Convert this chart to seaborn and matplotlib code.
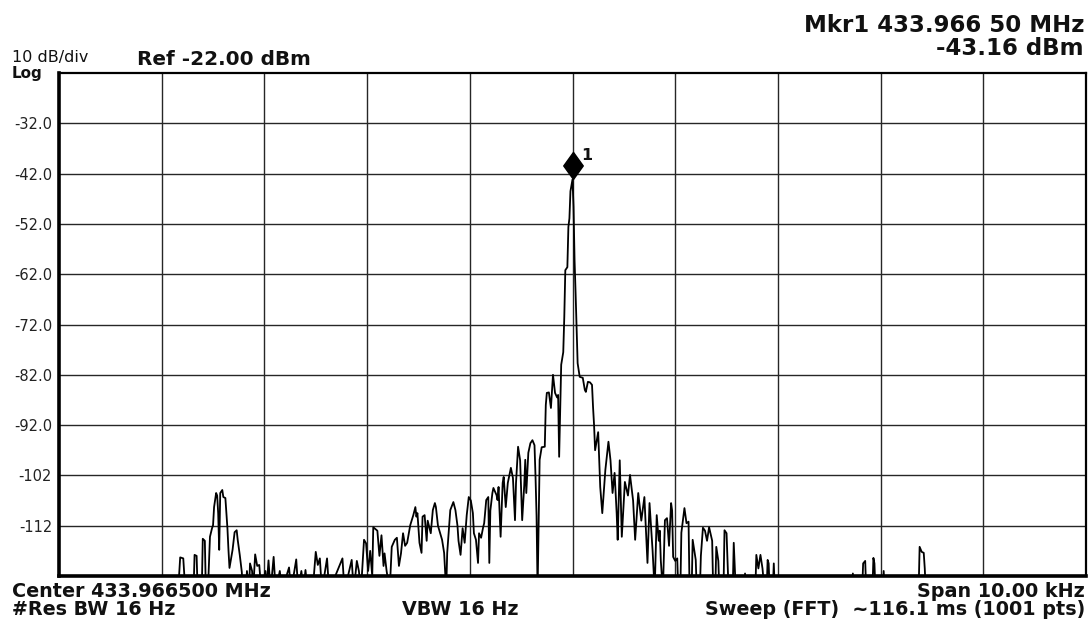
import numpy as np
import pandas as pd
import matplotlib
matplotlib.use("Agg")
import matplotlib.pyplot as plt
import seaborn as sns
from matplotlib.path import Path

sns.set_theme(style="white")
plt.rcParams["font.family"] = ["DejaVu Sans"]

# Sweep settings
START_MHZ = 433.9615          # left edge of the span
BIN_HZ = 10.0                 # 10 kHz span / 1000 intervals
N_POINTS = 1001
REF_LEVEL = -22.0
DB_PER_DIV = 10.0

# Trace vertices as (sweep point, level dBm); -125 means below the screen floor
noise_left = [
    (0, -125), (116, -125), (118, -118.3), (121, -118.5), (123, -125),
    (131, -125), (132, -117.8), (134, -118.0), (135, -125),
    (139, -125), (140, -114.6), (142, -115.0), (143, -125),
]
spur_left = [
    (145, -125), (147, -114.2), (149, -112.5), (150, -111.9), (151, -108.3),
    (153, -105.5), (154, -106.0), (155, -109.5), (156, -116.8), (157, -105.5),
    (159, -104.9), (160, -106.3), (162, -106.5), (164, -112.5), (165, -116.8),
    (166, -120.4), (169, -116.8), (171, -113.3), (173, -112.9), (174, -114.8),
    (176, -117.8), (178, -121.2), (179, -125),
]
noise_mid = [
    (182, -125), (183, -121.0), (185, -125), (186, -119.5), (188, -121.0),
    (189, -125), (191, -117.7), (193, -120.0), (195, -119.8), (197, -125),
    (201, -121.0), (202, -125), (204, -118.9), (206, -125), (209, -118.2),
    (211, -125), (215, -121.0), (217, -125), (224, -120.3), (226, -125),
    (231, -118.7), (233, -125), (236, -121.0), (238, -125), (240, -120.8),
    (242, -125), (247, -125), (250, -117.2), (252, -119.8), (254, -118.5),
    (256, -125), (261, -118.5), (263, -125), (276, -118.5), (278, -125),
    (285, -118.8), (287, -125), (290, -119.0), (292, -121.0), (294, -125),
]
skirt_left = [
    (297, -114.8), (299, -115.5), (301, -121.0), (303, -117.0), (305, -122.0),
    (306, -112.3), (310, -113.0), (312, -118.0), (314, -113.9), (316, -120.0),
    (317, -117.5), (319, -121.0), (322, -125), (324, -116.2), (327, -114.8),
    (329, -114.4), (331, -120.0), (333, -117.5), (335, -113.5), (337, -116.0),
    (339, -115.4), (342, -111.9), (345, -109.9), (347, -108.3), (348, -110.2),
    (349, -109.5), (351, -115.4), (353, -117.4), (354, -110.2), (356, -109.9),
    (358, -115.0), (359, -111.0), (362, -113.5), (364, -108.9), (366, -107.5),
    (367, -108.3), (369, -112.0), (373, -114.8), (375, -117.4), (377, -125),
    (378, -117.4), (381, -108.9), (384, -107.3), (386, -108.9), (388, -112.0),
    (389, -115.0), (391, -117.8), (393, -112.5), (395, -115.4), (397, -109.9),
    (399, -106.3), (401, -107.0), (403, -109.5), (404, -113.5), (406, -114.8),
    (408, -119.4), (409, -113.5), (411, -114.4), (413, -112.3), (414, -111.5),
    (416, -106.9), (418, -106.3), (419, -119.4), (420, -109.0), (422, -105.5),
    (423, -104.5), (426, -105.9), (427, -106.9), (428, -104.3), (430, -114.2),
    (432, -103.5), (433, -102.3), (435, -108.3), (437, -103.5), (440, -100.5),
    (442, -102.5), (443, -106.9), (444, -110.9), (445, -103.5), (447, -96.3),
    (449, -99.0), (451, -110.9), (453, -104.0), (454, -98.9), (455, -105.5),
    (457, -97.5), (459, -95.6), (461, -95.0), (463, -96.0), (464, -102.3),
    (465, -110.0), (466, -125), (468, -98.9), (470, -96.4), (473, -96.3),
    (474, -88.0), (475, -85.6), (477, -85.5), (479, -88.6), (480, -85.4),
    (481, -82.0), (483, -85.6), (485, -86.5), (486, -86.0), (487, -98.3),
]
carrier = [
    (489, -80.0), (491, -77.5), (492, -70.5), (493, -61.2), (495, -60.6),
    (496, -52.6), (497, -50.9), (498, -45.5), (500, -43.16), (501, -48.6),
    (502, -59.2), (503, -65.7), (504, -73.0), (505, -79.7), (507, -82.4),
]
skirt_right = [
    (510, -82.6), (512, -85.0), (513, -85.4), (515, -83.4), (517, -83.5),
    (519, -84.0), (520, -88.4), (521, -92.0), (522, -97.0), (525, -93.4),
    (527, -104.3), (529, -109.5), (532, -100.9), (535, -95.3), (537, -99.0),
    (539, -105.5), (541, -101.5), (543, -109.5), (544, -114.8), (546, -99.0),
    (548, -114.2), (551, -103.3), (554, -106.0), (556, -101.9), (559, -107.0),
    (561, -114.8), (564, -105.5), (567, -111.0), (570, -106.3), (573, -119.4),
    (575, -107.5), (578, -117.0), (580, -125), (582, -109.9), (584, -115.0),
    (585, -113.0), (586, -119.0), (588, -125), (590, -110.9), (592, -110.5),
    (594, -116.0), (596, -107.5), (597, -109.0), (598, -118.2), (600, -119.0),
    (602, -118.5), (603, -125),
]
noise_right = [
    (605, -125), (606, -113.4), (609, -108.5), (611, -111.5), (613, -111.2),
    (614, -125), (616, -125), (617, -114.8), (620, -118.8), (621, -125),
    (624, -125), (625, -118.0), (627, -112.4), (629, -113.0), (631, -115.0),
    (633, -112.3), (636, -115.0), (637, -125), (639, -125), (640, -116.2),
    (642, -119.0), (643, -125), (647, -125), (648, -112.9), (650, -113.5),
    (652, -125), (656, -125), (657, -115.4), (659, -125), (667, -125),
    (668, -121.5), (669, -125), (678, -125), (679, -117.8), (681, -120.5),
    (683, -117.8), (685, -120.5), (687, -125), (689, -125), (690, -118.8),
    (691, -119.5), (692, -125), (695, -125), (696, -119.5), (697, -125),
    (772, -125), (773, -121.5), (774, -125), (782, -125), (783, -119.5),
    (785, -119.0), (786, -125), (792, -125), (793, -118.4), (794, -119.5),
    (795, -125), (802, -125), (803, -121.0), (804, -125), (837, -125),
    (838, -116.2), (840, -117.2), (842, -117.4), (843, -120.5), (844, -125),
    (1000, -125),
]

grid_labels = ["-32.0", "-42.0", "-52.0", "-62.0", "-72.0",
               "-82.0", "-92.0", "-102", "-112"]

marker_mhz = 433.96650
marker_dbm = -43.16

segments = noise_left + spur_left + noise_mid + skirt_left + carrier + skirt_right + noise_right
trace = pd.DataFrame(segments, columns=["point", "level"])
trace["freq"] = START_MHZ + trace["point"] * BIN_HZ * 1e-6

W, H = 1090, 619
fig = plt.figure(figsize=(W / 100, H / 100), dpi=100)
fig.patch.set_facecolor("white")
x0, x1, y0, y1 = 59, 1086, 73, 576
ax = fig.add_axes([x0 / W, 1 - y1 / H, (x1 - x0) / W, (y1 - y0) / H])
ax.set_facecolor("white")

sns.lineplot(data=trace, x="freq", y="level", estimator=None, sort=False,
             color="black", linewidth=1.3, ax=ax, zorder=3)

f_lo = START_MHZ
f_hi = START_MHZ + (N_POINTS - 1) * BIN_HZ * 1e-6
ax.set_xlim(f_lo, f_hi)
ax.set_ylim(REF_LEVEL - 10 * DB_PER_DIV, REF_LEVEL)

xt = np.linspace(f_lo, f_hi, 11)[1:-1]
ax.set_xticks(xt)
ax.set_xticklabels([])
yt = REF_LEVEL - DB_PER_DIV * np.arange(1, 10)
ax.set_yticks(yt)
ax.set_yticklabels(grid_labels, fontsize=10.5, color="#222222")
ax.tick_params(length=0, pad=5)
ax.set_xlabel("")
ax.set_ylabel("")
ax.grid(True, color="#262626", linewidth=1.0)
ax.set_axisbelow(True)

for side, lw in [("left", 2.6), ("bottom", 2.6), ("top", 1.6), ("right", 1.6)]:
    ax.spines[side].set_visible(True)
    ax.spines[side].set_color("black")
    ax.spines[side].set_linewidth(lw)

# Marker 1: diamond sitting on the peak, tip at the marker level
diamond = Path([(0, 0), (-0.36, 0.5), (0, 1), (0.36, 0.5), (0, 0)],
               [Path.MOVETO, Path.LINETO, Path.LINETO, Path.LINETO, Path.CLOSEPOLY])
ax.plot([marker_mhz], [marker_dbm], marker=diamond, markersize=39,
        color="black", linestyle="none", zorder=5, clip_on=False)
ax.annotate("1", xy=(marker_mhz, marker_dbm), xytext=(9, 19),
            textcoords="offset pixels", ha="left", va="baseline",
            fontsize=11.5, fontweight="bold", color="#111111")


def px_text(x, y, s, **kw):
    fig.text(x / W, 1 - y / H, s, va="baseline", color="#111111", **kw)


px_text(12, 62, "10 dB/div", fontsize=11.5)
px_text(12, 78, "Log", fontsize=11, fontweight="bold")
px_text(137, 65, "Ref -22.00 dBm", fontsize=14.4, fontweight="bold")
# two-line marker readout; the baseline given is that of the last line
px_text(1084, 55, "Mkr1 433.966 50 MHz\n-43.16 dBm", fontsize=16.5,
        fontweight="bold", ha="right", multialignment="right", linespacing=1.0)

bottom_font = dict(fontsize=13.8, fontweight="bold")
px_text(12, 597, "Center 433.966500 MHz", **bottom_font)
px_text(1085, 597, "Span 10.00 kHz", ha="right", **bottom_font)
px_text(12, 615, "#Res BW 16 Hz", **bottom_font)
px_text(402, 615, "VBW 16 Hz", **bottom_font)
px_text(1085, 615, "Sweep (FFT)  ~116.1 ms (1001 pts)", ha="right", **bottom_font)

fig.savefig("out.png", dpi=100, facecolor="white")
